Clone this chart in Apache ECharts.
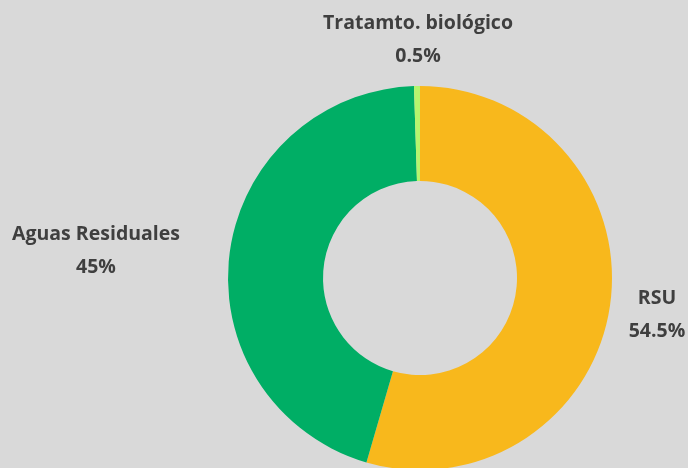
<!DOCTYPE html>
<html>
<head>
<meta charset="utf-8">
<script src="https://cdn.jsdelivr.net/npm/echarts@6/dist/echarts.min.js"></script>
<style>
  html, body { margin: 0; padding: 0; background: #d9d9d9; }
  #chart { width: 688px; height: 468px; }
</style>
</head>
<body>
<div id="chart"></div>
<script>
const categories = ['RSU', 'Aguas Residuales', 'Tratamto. biológico']
const values = [54.5, 45, 0.5]
const valueLabels = ['54.5%', '45%', '0.5%']
const colors = ['#f8b81c', '#00ae65', '#b5f56e']

// label anchor points (centre of the two-line label)
const labelPos = [[657, 315], [96, 251], [418, 40]]

const myChart = echarts.init(document.getElementById('chart'))
myChart.setOption({
  backgroundColor: '#d9d9d9',
  animation: false,
  series: [
    {
      type: 'pie',
      center: [420, 278],
      radius: [97, 192],
      startAngle: 90,
      clockwise: true,
      data: categories.map((c, i) => ({
        name: c,
        value: values[i],
        itemStyle: { color: colors[i] }
      })),
      label: {
        show: true,
        position: 'outside',
        formatter: (p) => p.name + '\n' + valueLabels[p.dataIndex],
        color: '#3f3f3f',
        fontFamily: 'Open Sans',
        fontWeight: 'bold',
        fontSize: 19.5,
        lineHeight: 33,
        align: 'center',
        overflow: 'none',
        edgeDistance: 0
      },
      labelLine: { show: false },
      labelLayout: (params) => ({
        x: labelPos[params.dataIndex][0],
        y: labelPos[params.dataIndex][1],
        align: 'center',
        verticalAlign: 'middle'
      })
    }
  ]
})
</script>
</body>
</html>
